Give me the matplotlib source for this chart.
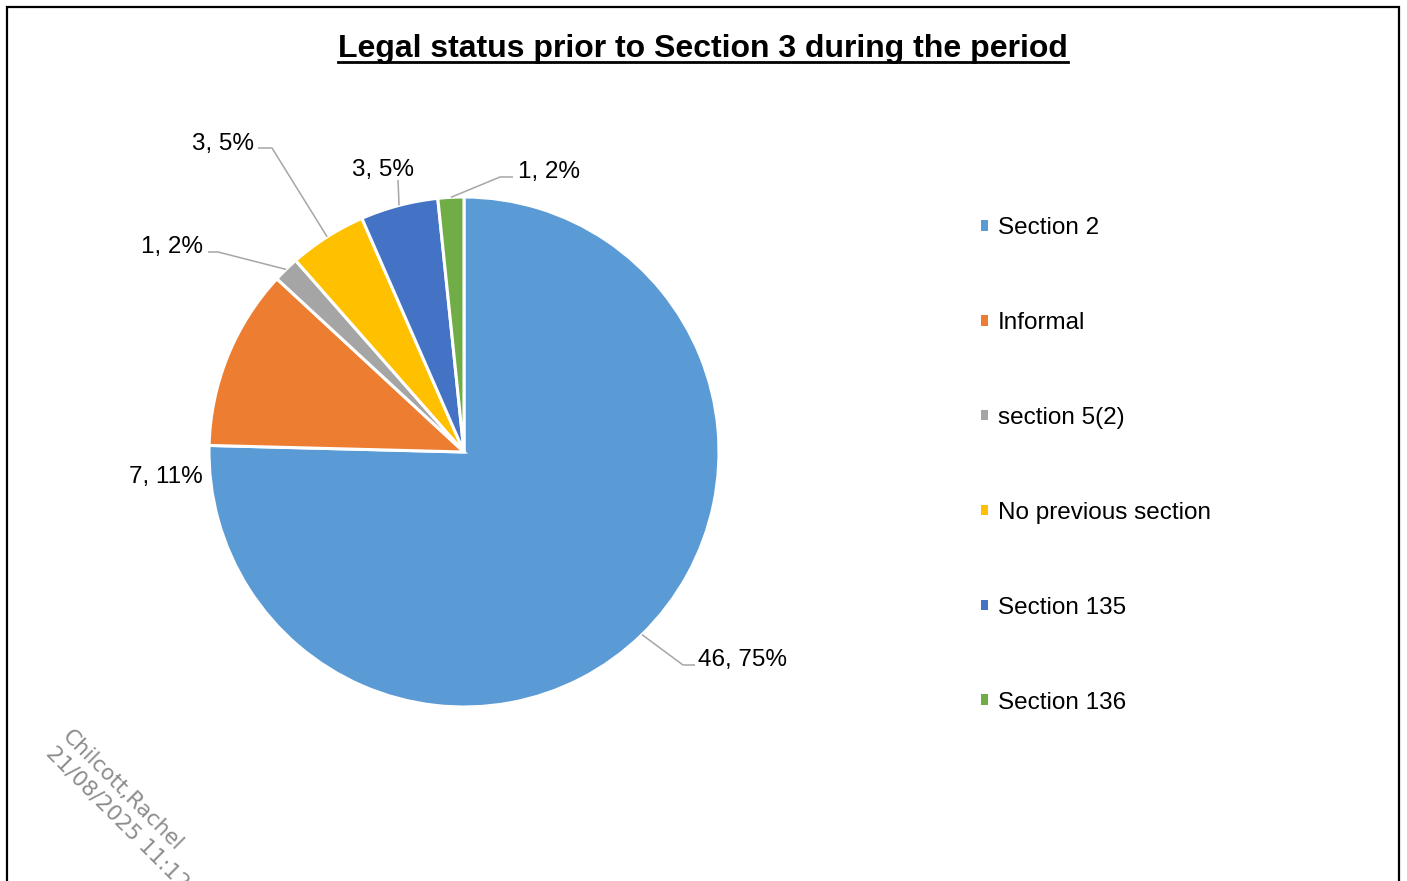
import numpy as np
import matplotlib
matplotlib.use("Agg")
import matplotlib.pyplot as plt
from matplotlib.patches import Rectangle
from matplotlib.lines import Line2D

# Data
categories = ["Section 2", "Informal", "section 5(2)", "No previous section",
              "Section 135", "Section 136"]
counts = [46, 7, 1, 3, 3, 1]
colors = ["#5B9BD5", "#ED7D31", "#A5A5A5", "#FFC000", "#4472C4", "#70AD47"]
title = "Legal status prior to Section 3 during the period"
watermark_lines = ["Chilcott,Rachel", "21/08/2025 11:12"]

W, H = 1407, 881
fig = plt.figure(figsize=(W / 100, H / 100), dpi=100)
ax = fig.add_axes([0, 0, 1, 1])

FONT = "Liberation Sans"
LEAD = "#A6A6A6"

# Pie in a pixel-sized coordinate system (y grows upward)
cx, cy, R = 464, H - 452, 255
wedges, _ = ax.pie(counts, colors=colors, startangle=90, counterclock=False,
                   center=(cx, cy), radius=R,
                   wedgeprops=dict(edgecolor="white", linewidth=2.2))
ax.set_xlim(0, W)
ax.set_ylim(0, H)
ax.set_aspect("equal")
ax.axis("off")

total = sum(counts)
pcts = [round(100 * c / total) for c in counts]

def edge_point(w):
    mid = np.deg2rad((w.theta1 + w.theta2) / 2)
    return cx + R * np.cos(mid), cy + R * np.sin(mid)

# label placement: (text anchor x, y, ha, leader path after the wedge edge)
placements = [
    (698, 660, "left", [(683, 665), (695, 665)]),
    (203, 477, "right", None),
    (203, 247, "right", [(218, 252), (208, 252)]),
    (254, 144, "right", [(272, 148), (258, 148)]),
    (383, 170, "center", [(398, 180)]),
    (518, 172, "left", [(500, 177), (513, 177)]),
]

for w, n, p, (tx, ty, ha, path) in zip(wedges, counts, pcts, placements):
    ax.text(tx, H - ty, f"{n}, {p}%", ha=ha, va="center", fontsize=17.5,
            family=FONT, color="black")
    if path:
        ex, ey = edge_point(w)
        xs = [ex] + [q[0] for q in path]
        ys = [ey] + [H - q[1] for q in path]
        ax.plot(xs, ys, color=LEAD, lw=1.1, solid_capstyle="butt")

# Legend
handles = [Rectangle((0, 0), 1, 1, facecolor=c, edgecolor="none") for c in colors]
leg = fig.legend(handles, categories, loc="upper left",
                 bbox_to_anchor=(981 / W, 1 - 217 / H), frameon=False,
                 prop=dict(family=FONT, size=17.5),
                 handlelength=0.3, handleheight=0.3, handletextpad=0.4,
                 labelspacing=3.0, borderpad=0, borderaxespad=0)

# Title with underline
t = fig.text(703 / W, 1 - 49 / H, title, ha="center", va="center",
             fontsize=23, fontweight="bold", family=FONT)
fig.canvas.draw()
bb = t.get_window_extent()
fig.add_artist(Line2D([bb.x0 / W, bb.x1 / W], [1 - 62 / H, 1 - 62 / H],
                      transform=fig.transFigure, color="black", lw=2.0))

# Watermark
wm_color = "#8C8C8C"
fig.text(61 / W, 1 - 738 / H, watermark_lines[0], rotation=-45,
         rotation_mode="anchor", ha="left", va="baseline",
         fontsize=15.5, family="DejaVu Sans", color=wm_color)
fig.text(45 / W, 1 - 754 / H, watermark_lines[1], rotation=-45,
         rotation_mode="anchor", ha="left", va="baseline",
         fontsize=15.5, family="DejaVu Sans", color=wm_color)

# Outer frame
fig.add_artist(Rectangle((7 / W, -0.05), (1399 - 7) / W, 1.05 - 7 / H,
                         transform=fig.transFigure, fill=False,
                         edgecolor="black", lw=1.6))

fig.savefig("out.png", dpi=100, facecolor="white")
